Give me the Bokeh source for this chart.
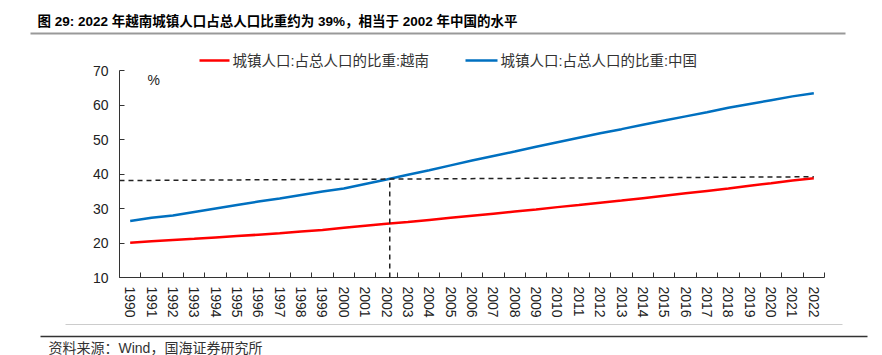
from bokeh.plotting import figure
from bokeh.models import Range1d, FixedTicker, Label, Arrow
from bokeh.embed import file_html
from bokeh.resources import INLINE

years = list(range(1990, 2023))
vietnam = [20.1, 20.5, 20.9, 21.2, 21.6, 22.0, 22.4, 22.8, 23.3, 23.8, 24.4,
           25.0, 25.6, 26.1, 26.7, 27.3, 27.9, 28.5, 29.1, 29.7, 30.4, 31.0,
           31.7, 32.3, 33.0, 33.7, 34.4, 35.1, 35.8, 36.6, 37.3, 38.1, 38.8]
china = [26.4, 27.3, 28.0, 29.0, 30.0, 31.0, 32.0, 32.9, 33.9, 34.9, 35.8,
         37.1, 38.4, 39.8, 41.1, 42.5, 43.9, 45.2, 46.5, 47.9, 49.2, 50.5,
         51.8, 53.0, 54.3, 55.5, 56.7, 57.9, 59.2, 60.3, 61.4, 62.5, 63.4]
y_ticks = [10, 20, 30, 40, 50, 60, 70]
ref_h_x = [1989.5, 2022]
ref_h_y = [38.1, 39.2]
ref_v_x = [2002.15, 2002.15]
ref_v_y = [10, 38.6]

title_text = "图 29: 2022 年越南城镇人口占总人口比重约为 39%，相当于 2002 年中国的水平"
name_vn = "城镇人口:占总人口的比重:越南"
name_cn = "城镇人口:占总人口的比重:中国"
unit_text = "%"
source_text = "资料来源：Wind，国海证券研究所"

RED = "#FF0000"
BLUE = "#0070C0"
CJK = "Liberation Sans, Noto Sans CJK SC"

# page geometry (pixels) of the plotting area inside the whole canvas
W, H = 882, 355
AX_L, AX_R, AX_T, AX_B = 119, 824, 70, 277
X0, X1 = years[0] - 0.5, years[-1] + 0.5
Y0, Y1 = y_ticks[0], y_ticks[-1]
sx = (X1 - X0) / (AX_R - AX_L)
sy = (Y1 - Y0) / (AX_B - AX_T)
x_range = Range1d(X0 - AX_L * sx, X1 + (W - AX_R) * sx)
y_range = Range1d(Y0 - (H - AX_B) * sy, Y1 + AX_T * sy)

p = figure(width=W, height=H, output_backend="svg", toolbar_location=None,
           x_range=x_range, y_range=y_range,
           min_border_left=0, min_border_right=0, min_border_top=0,
           min_border_bottom=0)
p.outline_line_color = None
p.grid.visible = False
p.background_fill_color = "white"
p.border_fill_color = "white"

p.line(years, vietnam, line_color=RED, line_width=2.5)
p.line(years, china, line_color=BLUE, line_width=2.5)
p.line(ref_h_x, ref_h_y, line_color="#222222", line_width=1.5, line_dash="5 4")
p.line(ref_v_x, ref_v_y, line_color="#222222", line_width=1.5, line_dash="5 4")

xa = p.xaxis[0]
xa.fixed_location = Y0
xa.bounds = (X0, X1)
xa.ticker = FixedTicker(ticks=years, minor_ticks=[y + 0.5 for y in range(1989, 2023)])
xa.major_tick_in = 0
xa.major_tick_out = 0
xa.minor_tick_in = 5
xa.minor_tick_out = 0
xa.minor_tick_line_color = "#333333"
xa.major_label_orientation = "vertical"
xa.major_label_standoff = 9
xa.major_label_text_font = "Liberation Sans"
xa.major_label_text_font_size = "14px"
xa.major_label_text_color = "#222222"
xa.axis_line_color = "#333333"

ya = p.yaxis[0]
ya.fixed_location = X0
ya.bounds = (Y0, Y1)
ya.ticker = FixedTicker(ticks=y_ticks)
ya.major_tick_in = 5
ya.major_tick_out = 0
ya.minor_tick_line_color = None
ya.major_tick_line_color = "#333333"
ya.major_label_standoff = 11
ya.major_label_text_font = "Liberation Sans"
ya.major_label_text_font_size = "14px"
ya.major_label_text_color = "#222222"
ya.axis_line_color = "#333333"

def label(x, y, text, size, color="#222222", style="normal", font=CJK):
    p.add_layout(Label(x=x, y=H - y, x_units="screen", y_units="screen", text=text,
                       text_font=font, text_font_size=size, text_color=color,
                       text_font_style=style, text_baseline="middle",
                       text_align="left"))

def hline(x0, x1, y, color, width):
    p.add_layout(Arrow(end=None, x_start=x0, y_start=H - y, x_end=x1, y_end=H - y,
                       start_units="screen", end_units="screen",
                       line_color=color, line_width=width))

# title and separator
label(37, 21, title_text, "13.5px", color="#000000", style="bold")
hline(30, 845, 33, "#999999", 2)

# legend
hline(199, 229, 60, RED, 2.5)
label(232, 60, name_vn, "14.5px", color="#333333")
hline(465, 497, 60, BLUE, 2.5)
label(500, 60, name_cn, "14.5px", color="#333333")

# unit
label(147, 79, unit_text, "14px", color="#222222", font="Liberation Sans")

# bottom separators and source
hline(65, 842, 324, "#cccccc", 1)
hline(40, 867, 336, "#333333", 1.5)
label(48, 347, source_text, "14px", color="#333333")

open("out.html", "w").write(file_html(p, INLINE))
